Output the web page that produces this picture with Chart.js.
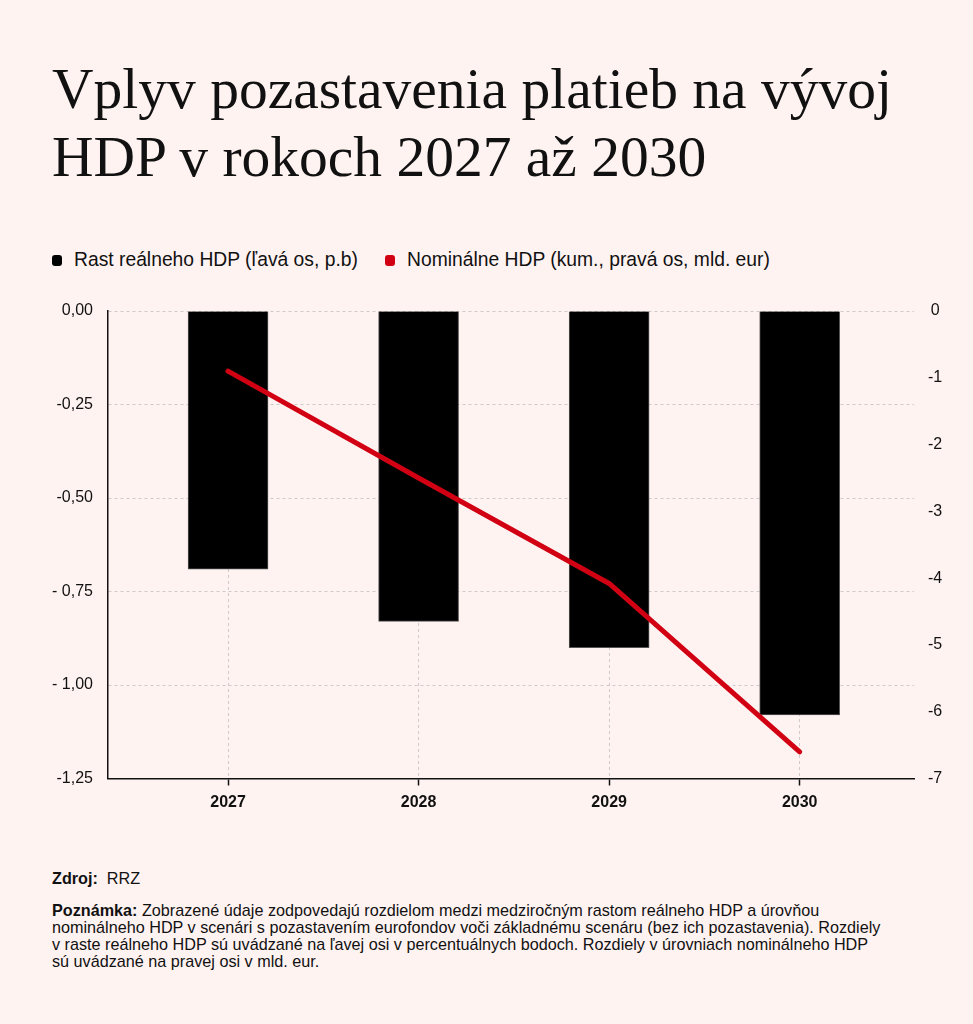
<!DOCTYPE html>
<html lang="sk">
<head>
<meta charset="utf-8">
<script src="https://cdn.jsdelivr.net/npm/chart.js@4.4.1/dist/chart.umd.min.js"></script>
<style>
  html, body { margin:0; padding:0; }
  body { width:973px; height:1024px; background:#fff3f2; position:relative; overflow:hidden; color:#111; font-family:"Liberation Sans", Arial, sans-serif; }
  #title { position:absolute; left:52px; top:55px; font-family:"Liberation Serif", "Times New Roman", serif; font-size:57.5px; line-height:68px; color:#111; white-space:nowrap; }
  .leg { position:absolute; top:248px; font-size:19.3px; line-height:24px; white-space:nowrap; display:flex; align-items:center; }
  .mk { display:inline-block; width:10px; height:11px; border-radius:3px; margin-right:12px; }
  #chartbox { position:absolute; left:0; top:290px; width:973px; height:540px; }
  .note { position:absolute; left:52px; font-size:16.2px; line-height:17px; white-space:nowrap; color:#111; }
</style>
</head>
<body>
<div id="title">Vplyv pozastavenia platieb na vývoj<br>HDP v rokoch 2027 až 2030</div>
<div class="leg" style="left:52px"><span class="mk" style="background:#000"></span><span id="leg1"></span></div>
<div class="leg" style="left:385px"><span class="mk" style="background:#d10012"></span><span id="leg2"></span></div>
<div id="chartbox"><canvas id="c"></canvas></div>
<div class="note" style="top:870px"><b>Zdroj:</b>&nbsp; RRZ</div>
<div class="note" style="top:902px"><b>Poznámka:</b> Zobrazené údaje zodpovedajú rozdielom medzi medziročným rastom reálneho HDP a úrovňou<br>nominálneho HDP v scenári s pozastavením eurofondov voči základnému scenáru (bez ich pozastavenia). Rozdiely<br>v raste reálneho HDP sú uvádzané na ľavej osi v percentuálnych bodoch. Rozdiely v úrovniach nominálneho HDP<br>sú uvádzané na pravej osi v mld. eur.</div>
<script>
// ---- data ----
const years = [2027, 2028, 2029, 2030];
const realGdpGrowth = [-0.69, -0.83, -0.90, -1.08];      // left axis, p.b.
const nominalGdpCum = [-0.90, -2.50, -4.08, -6.60];     // right axis, mld. eur
const seriesNames = ["Rast reálneho HDP (ľavá os, p.b)", "Nominálne HDP (kum., pravá os, mld. eur)"];
const leftTickValues = [0, -0.25, -0.5, -0.75, -1.0, -1.25];
const leftTickLabels = ["0,00", "-0,25", "-0,50", "- 0,75", "- 1,00", "-1,25"];
const rightTickValues = [0, -1, -2, -3, -4, -5, -6, -7];
const rightTickLabels = ["0", "-1", "-2", "-3", "-4", "-5", "-6", "-7"];

document.getElementById('leg1').textContent = seriesNames[0];
document.getElementById('leg2').textContent = seriesNames[1];

const ink = '#111111';
const gridCol = '#cfcaca';
const red = '#d10012';

new Chart(document.getElementById('c'), {
  type: 'bar',
  data: {
    datasets: [
      {
        type: 'line',
        label: seriesNames[1],
        yAxisID: 'y2',
        xAxisID: 'x',
        data: years.map((y, i) => ({ x: y, y: nominalGdpCum[i] })),
        borderColor: red,
        borderWidth: 5,
        pointRadius: 0,
        borderCapStyle: 'round',
        borderJoinStyle: 'round',
        tension: 0,
        order: 1
      },
      {
        type: 'bar',
        label: seriesNames[0],
        yAxisID: 'y',
        xAxisID: 'x',
        data: years.map((y, i) => ({ x: y, y: realGdpGrowth[i] })),
        backgroundColor: '#000000',
        borderColor: '#555555',
        borderWidth: 1,
        barThickness: 80,
        order: 2
      }
    ]
  },
  options: {
    responsive: true,
    maintainAspectRatio: false,
    animation: false,
    layout: { padding: { top: 21, bottom: 0, left: 0, right: 0 } },
    plugins: { legend: { display: false }, tooltip: { enabled: false } },
    scales: {
      x: {
        type: 'linear',
        position: 'bottom',
        offset: false,
        min: 2026.37,
        max: 2030.6,
        afterBuildTicks: s => { s.ticks = years.map(v => ({ value: v })); },
        afterFit: s => { s.height = 51.5; },
        ticks: {
          callback: v => String(v),
          font: { family: 'Liberation Sans', size: 16, weight: 'bold' },
          color: ink,
          padding: 7,
          maxRotation: 0,
          autoSkip: false
        },
        grid: { offset: false, color: gridCol, lineWidth: 1, tickColor: ink, tickLength: 7, tickWidth: 1.5 },
        border: { color: ink, width: 1.5, dash: [3, 3] }
      },
      y: {
        type: 'linear',
        position: 'left',
        min: -1.25,
        max: 0,
        afterBuildTicks: s => { s.ticks = leftTickValues.map(v => ({ value: v })); },
        afterFit: s => { s.width = 108; s.paddingTop = 0; s.paddingBottom = 0; },
        ticks: {
          callback: (v, i) => leftTickLabels[i],
          font: { family: 'Liberation Sans', size: 16 },
          color: ink,
          padding: 15
        },
        grid: { color: gridCol, lineWidth: 1, drawTicks: false },
        border: { color: ink, width: 1.5, dash: [3, 3] }
      },
      y2: {
        type: 'linear',
        position: 'right',
        min: -7,
        max: 0,
        afterBuildTicks: s => { s.ticks = rightTickValues.map(v => ({ value: v })); },
        afterFit: s => { s.width = 59; s.paddingTop = 0; s.paddingBottom = 0; },
        ticks: {
          callback: (v, i) => rightTickLabels[i],
          font: { family: 'Liberation Sans', size: 16 },
          color: ink,
          padding: 14,
          crossAlign: 'center'
        },
        grid: { display: false, drawTicks: false },
        border: { display: false }
      }
    }
  }
});
</script>
</body>
</html>
